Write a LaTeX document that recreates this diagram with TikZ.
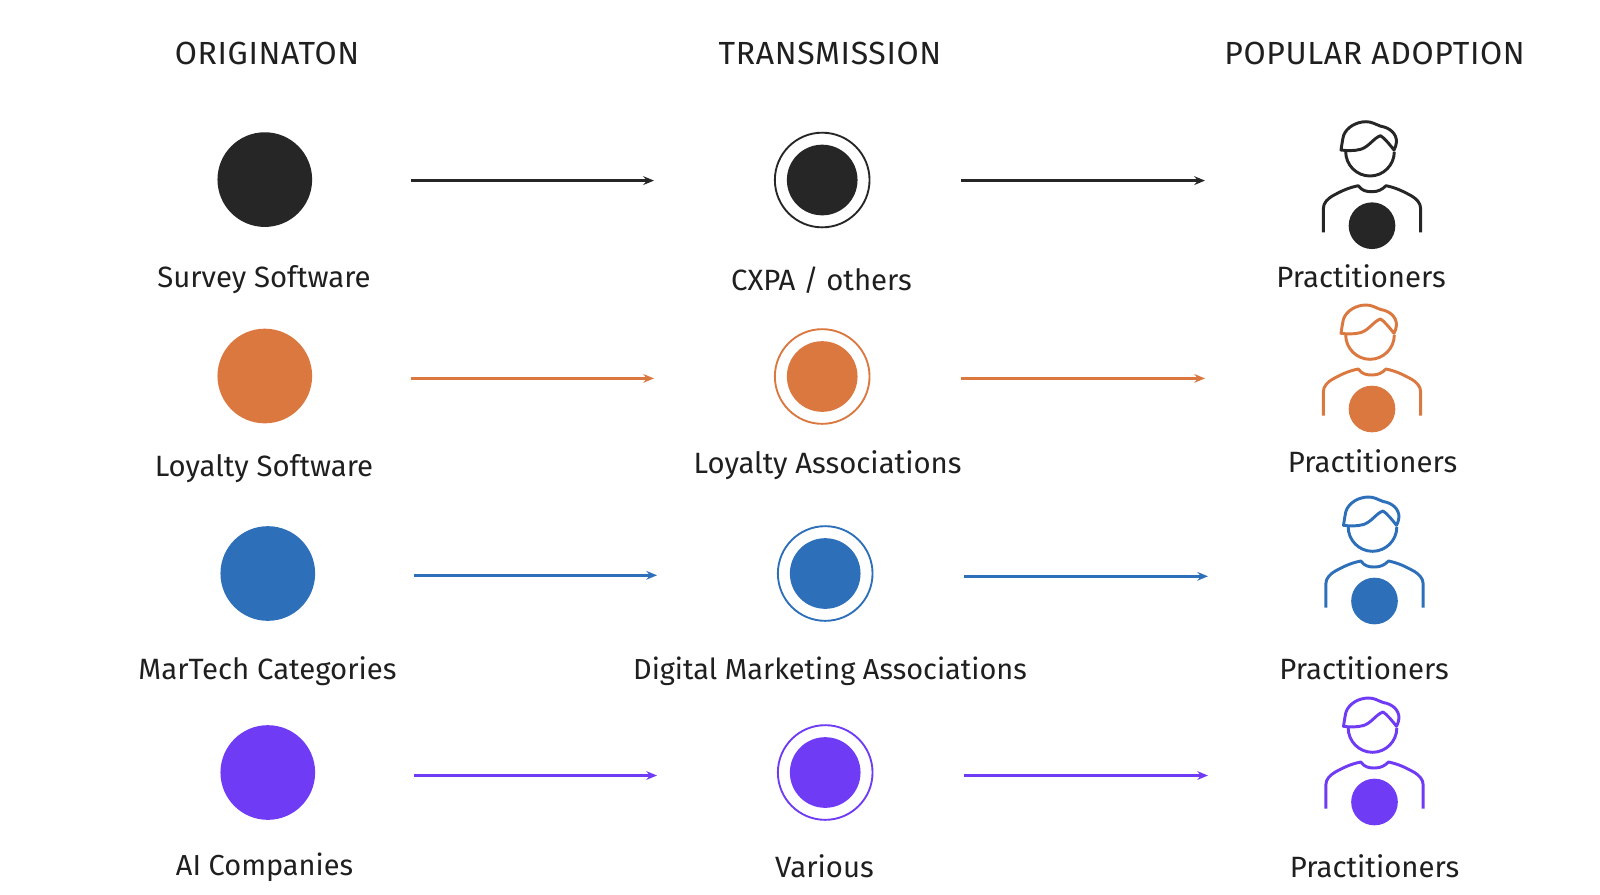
\documentclass[tikz,border=0pt]{standalone}
\usepackage{fontspec}
\setmainfont{Fira Sans}
\usetikzlibrary{arrows.meta}
\definecolor{cblack}{HTML}{262626}
\definecolor{corange}{HTML}{DB7840}
\definecolor{cblue}{HTML}{2E6FBA}
\definecolor{cpurple}{HTML}{6F3BF5}
\tikzset{
  x=0.75pt,y=-0.75pt,
  disc/.style={circle,fill=#1,draw=none,inner sep=0pt,minimum size=71pt},
  innerdisc/.style={circle,fill=#1,draw=none,inner sep=0pt,minimum size=53pt},
  ringc/.style={circle,draw=#1,fill=none,line width=1.4pt,inner sep=0pt,minimum size=71pt},
  chest/.style={circle,fill=#1,draw=none,inner sep=0pt,minimum size=35pt},
  lab/.style={font=\fontsize{22}{24}\selectfont,text=black!88,anchor=center,inner sep=0pt},
  labn/.style={font=\fontsize{21.7}{24}\selectfont,text=black!88,anchor=center,inner sep=0pt},
  head/.style={font=\fontsize{24}{26}\selectfont\addfontfeature{LetterSpace=2},text=black!88,anchor=center,inner sep=0pt},
  conn/.style={draw=#1,line width=1.8pt,-{Stealth[length=8pt,width=6.5pt]}},
  pics/person/.style={code={
    \node[chest=#1] (-disc) at (0,0) {};
    \draw[#1,line width=2.2pt,line join=round]
      (-31,-75.7) .. controls (-30,-82) and (-29.5,-86) .. (-28.5,-90)
      .. controls (-25.5,-98.5) and (-15.5,-104) .. (-6,-104)
      .. controls (0,-104) and (3,-101.5) .. (8.7,-99.5)
      .. controls (18,-98) and (24.5,-92) .. (24.5,-84)
      .. controls (24.5,-81) and (23,-78) .. (22,-75.7)
      .. controls (17,-82) and (12,-88) .. (8.5,-90)
      .. controls (2,-88) and (-3,-79) .. (-11,-76.5)
      .. controls (-18,-74.5) and (-26,-75) .. (-31,-75.7) -- cycle;
    \draw[#1,line width=2.2pt]
      (-26.3,-74) .. controls (-26.3,-60.7) and (-15.4,-49.7) .. (-2,-49.7)
      .. controls (11.4,-49.7) and (22.3,-60.7) .. (22.3,-74);
    \draw[#1,line width=2.2pt,line join=round]
      (-48.7,6.7) -- (-48.7,-17) .. controls (-48.7,-23) and (-44,-27) .. (-40,-29.5)
      .. controls (-32,-34) and (-24,-38) .. (-13.7,-40)
      .. controls (-10,-35) and (-6,-34) .. (0,-34)
      .. controls (6,-34) and (10,-36) .. (14,-40)
      .. controls (24,-38) and (32,-34) .. (40,-29.5)
      .. controls (44,-27) and (48.7,-23) .. (48.7,-17) -- (48.7,6.7);
  }}
}
\begin{document}
\begin{tikzpicture}
\useasboundingbox[fill=white] (0,0) rectangle (1600,894);
% headers
\node[head] (h1) at (267,53) {ORIGINATON};
\node[head] (h2) at (830,53) {TRANSMISSION};
\node[head] (h3) at (1374.5,53) {POPULAR ADOPTION};
% row 1
\node[disc=cblack] (a1) at (264.8,179.6) {};
\node[ringc=cblack] (b1o) at (822.2,180) {};
\node[innerdisc=cblack] (b1) at (822.2,180) {};
\pic (p1) at (1372,225.7) {person=cblack};
\node[lab] (la1) at (264,279.5) {Survey Software};
\node[lab] (lb1) at (821.5,280.6) {CXPA / others};
\node[lab] (lc1) at (1361,276.5) {Practitioners};
\coordinate (s1a) at (411,180.6); \coordinate (e1a) at (654,180.6);
\coordinate (s1b) at (961,180.6); \coordinate (e1b) at (1205,180.6);
\draw[conn=cblack] (s1a) -- (e1a);
\draw[conn=cblack] (s1b) -- (e1b);
% row 2
\node[disc=corange] (a2) at (264.8,376) {};
\node[ringc=corange] (b2o) at (822.2,376.5) {};
\node[innerdisc=corange] (b2) at (822.2,376.5) {};
\pic (p2) at (1372,409) {person=corange};
\node[lab] (la2) at (264,469) {Loyalty Software};
\node[lab] (lb2) at (827.6,465) {Loyalty Associations};
\node[lab] (lc2) at (1372.5,461) {Practitioners};
\coordinate (s2a) at (411,378.4); \coordinate (e2a) at (654,378.4);
\coordinate (s2b) at (961,378.4); \coordinate (e2b) at (1205,378.4);
\draw[conn=corange] (s2a) -- (e2a);
\draw[conn=corange] (s2b) -- (e2b);
% row 3
\node[disc=cblue] (a3) at (267.8,573.5) {};
\node[ringc=cblue] (b3o) at (825.2,573.5) {};
\node[innerdisc=cblue] (b3) at (825.2,573.5) {};
\pic (p3) at (1374.5,601) {person=cblue};
\node[lab] (la3) at (267.5,671) {MarTech Categories};
\node[labn] (lb3) at (830,671) {Digital Marketing Associations};
\node[lab] (lc3) at (1364,668) {Practitioners};
\coordinate (s3a) at (413.6,575.3); \coordinate (e3a) at (657,575.3);
\coordinate (s3b) at (964.3,576.3); \coordinate (e3b) at (1208,576.3);
\draw[conn=cblue] (s3a) -- (e3a);
\draw[conn=cblue] (s3b) -- (e3b);
% row 4
\node[disc=cpurple] (a4) at (267.8,772.5) {};
\node[ringc=cpurple] (b4o) at (825.2,772.5) {};
\node[innerdisc=cpurple] (b4) at (825.2,772.5) {};
\pic (p4) at (1374.5,802) {person=cpurple};
\node[labn] (la4) at (264.5,867) {AI Companies};
\node[lab] (lb4) at (824.5,866) {Various};
\node[lab] (lc4) at (1374.5,866) {Practitioners};
\coordinate (s4a) at (413.6,775.5); \coordinate (e4a) at (657,775.5);
\coordinate (s4b) at (964.3,775.5); \coordinate (e4b) at (1208,775.5);
\draw[conn=cpurple] (s4a) -- (e4a);
\draw[conn=cpurple] (s4b) -- (e4b);
\end{tikzpicture}
\end{document}
